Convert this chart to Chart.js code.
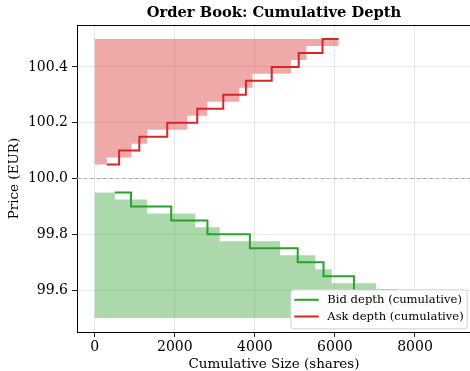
<!DOCTYPE html>
<html><head><meta charset="utf-8">
<script src="https://cdn.jsdelivr.net/npm/chart.js@4.4.0/dist/chart.umd.min.js"></script>
<style>
html,body{margin:0;padding:0;background:#fff;overflow:hidden;width:470px;height:371px}
#wrap{position:absolute;left:0;top:0;width:480px;height:371px}
</style></head>
<body><div id="wrap"><canvas id="c" width="480" height="371"></canvas></div>
<script>
// ---- data ----
const askPrices = [100.05, 100.10, 100.15, 100.20, 100.25, 100.30, 100.35, 100.40, 100.45, 100.50];
const askCum    = [300, 915, 1310, 2310, 2810, 3610, 3940, 4900, 5290, 6090];
const bidPrices = [99.95, 99.90, 99.85, 99.80, 99.75, 99.70, 99.65, 99.60, 99.55, 99.50];
const bidCum    = [500, 1310, 2510, 3120, 4630, 5510, 5920, 7030, 8000, 8850];
const midPrice  = 100.0;
const xTicks = [0, 2000, 4000, 6000, 8000];
const yTicks = [99.6, 99.8, 100.0, 100.2, 100.4];
const seriesLabels = ['Bid depth (cumulative)', 'Ask depth (cumulative)'];

const X_MIN = -445, X_MAX = 9400, Y_MIN = 99.45, Y_MAX = 100.55;
const GREEN = '#2ca02c', RED = '#d62728';
const FONT = 'DejaVu Serif';

function stepPoints(prices, cum) {
  return prices.map((p, i) => ({x: cum[i], y: p}));
}
// staircase outline (fill_betweenx with mid steps) from 0 to cumulative size
function depthPolygon(prices, cum) {
  const n = prices.length - 1;
  const pts = [{x: 0, y: prices[0]}, {x: cum[0], y: prices[0]}];
  for (let i = 0; i < n; i++) {
    const e = (prices[i] + prices[i + 1]) / 2;
    pts.push({x: cum[i], y: e}, {x: cum[i + 1], y: e});
  }
  pts.push({x: cum[n], y: prices[n]}, {x: 0, y: prices[n]});
  return pts;
}

const topSpine = {
  id: 'topSpine',
  afterDatasetsDraw(chart) {
    const {ctx, chartArea: a} = chart;
    ctx.save();
    ctx.strokeStyle = '#000'; ctx.lineWidth = 1;
    ctx.beginPath(); ctx.moveTo(a.left, a.top + 0.5); ctx.lineTo(a.right, a.top + 0.5); ctx.stroke();
    ctx.restore();
  }
};

const boxLegend = {
  id: 'boxLegend',
  afterDraw(chart) {
    const {ctx, chartArea: a} = chart;
    const colors = [GREEN, RED];
    ctx.save();
    ctx.font = '11.6px "' + FONT + '"';
    const tw = Math.max(...seriesLabels.map(t => ctx.measureText(t).width));
    const h = 39, w = 4 + 24.4 + 8.6 + tw + 3;
    const right = a.right - 4.3, bottom = a.bottom - 3.7;
    const left = right - w, top = bottom - h;
    ctx.beginPath();
    ctx.roundRect(left + 0.5, top + 0.5, w, h, 3);
    ctx.fillStyle = 'rgba(255,255,255,0.96)';
    ctx.fill();
    ctx.strokeStyle = '#d0d0d0'; ctx.lineWidth = 1; ctx.stroke();
    seriesLabels.forEach((t, i) => {
      const cy = top + 10.5 + i * 16.7;
      ctx.strokeStyle = colors[i]; ctx.lineWidth = 2;
      ctx.beginPath(); ctx.moveTo(left + 4, cy); ctx.lineTo(left + 28.4, cy); ctx.stroke();
      ctx.fillStyle = '#000'; ctx.textBaseline = 'middle'; ctx.textAlign = 'left';
      ctx.fillText(t, left + 37, cy);
    });
    ctx.restore();
  }
};

const axisCommon = (ticks) => ({
  type: 'linear',
  afterBuildTicks: s => { s.ticks = ticks.map(v => ({value: v})); },
  grid: {color: '#e6e6e6', lineWidth: 1, tickLength: 5, tickColor: '#222', drawTicks: true},
  border: {display: true, color: '#000', width: 1},
});

new Chart(document.getElementById('c'), {
  type: 'line',
  data: {
    datasets: [
      {label: seriesLabels[0], data: stepPoints(bidPrices, bidCum), borderColor: GREEN, borderWidth: 2,
       stepped: 'middle', pointRadius: 0, fill: false, order: 0},
      {label: seriesLabels[1], data: stepPoints(askPrices, askCum), borderColor: RED, borderWidth: 2,
       stepped: 'middle', pointRadius: 0, fill: false, order: 0},
      {label: 'mid', data: [{x: X_MIN, y: midPrice}, {x: X_MAX, y: midPrice}], borderColor: '#b0b0b0',
       borderWidth: 1, borderDash: [4, 2.4], pointRadius: 0, fill: false, order: 1},
      {label: 'bidfill', data: depthPolygon(bidPrices, bidCum), borderWidth: 0, borderColor: 'rgba(0,0,0,0)',
       backgroundColor: 'rgba(44,160,44,0.4)', fill: 'shape', pointRadius: 0, tension: 0, order: 2},
      {label: 'askfill', data: depthPolygon(askPrices, askCum), borderWidth: 0, borderColor: 'rgba(0,0,0,0)',
       backgroundColor: 'rgba(214,39,40,0.4)', fill: 'shape', pointRadius: 0, tension: 0, order: 2},
    ]
  },
  options: {
    responsive: false, animation: false, devicePixelRatio: 1,
    layout: {padding: {left: 0, right: 9, top: 0, bottom: 0}},
    plugins: {
      legend: {display: false}, tooltip: {enabled: false},
      title: {display: true, fullSize: false, text: 'Order Book: Cumulative Depth', color: '#000',
              font: {family: FONT, size: 14.7, weight: 'bold', lineHeight: 1.2}, padding: {top: 4.6, bottom: 2.8}}
    },
    scales: {
      x: Object.assign(axisCommon(xTicks), {
        min: X_MIN, max: X_MAX,
        afterFit: s => { s.height = 39; },
        ticks: {callback: v => String(v), font: {family: FONT, size: 14}, color: '#000', padding: 2,
                maxRotation: 0, autoSkip: false},
        title: {display: true, text: 'Cumulative Size (shares)', color: '#000',
                font: {family: FONT, size: 13.5, lineHeight: 1.0}, padding: {top: 0, bottom: 0}}
      }),
      y: Object.assign(axisCommon(yTicks), {
        min: Y_MIN, max: Y_MAX,
        afterFit: s => { s.width = 77; },
        ticks: {callback: v => v.toFixed(1), font: {family: FONT, size: 14}, color: '#000', padding: 4,
                autoSkip: false},
        title: {display: true, text: 'Price (EUR)', color: '#000',
                font: {family: FONT, size: 13.5, lineHeight: 1.0}, padding: {top: 8, bottom: 0}}
      })
    }
  },
  plugins: [topSpine, boxLegend]
});
</script>
</body></html>
